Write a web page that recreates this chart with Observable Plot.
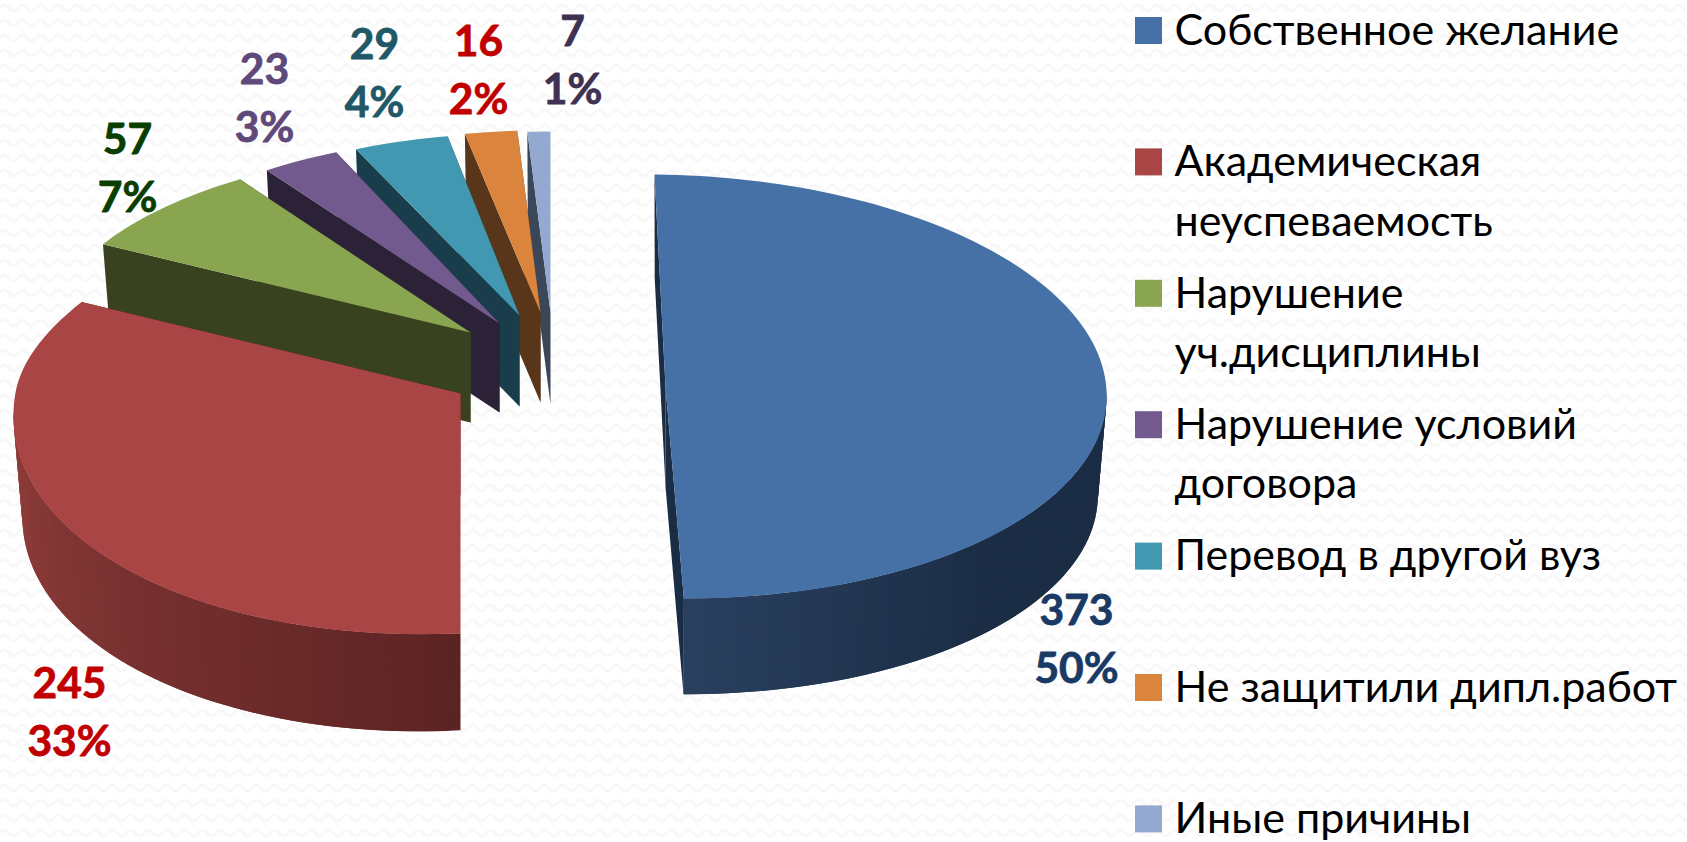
<!DOCTYPE html>
<html>
<head>
<meta charset="utf-8">
<script src="https://cdn.jsdelivr.net/npm/d3@7"></script>
<script src="https://cdn.jsdelivr.net/npm/@observablehq/plot@0.6"></script>
<style>
html,body{margin:0;padding:0;background:#fff;overflow:hidden}
body{background-image:url("data:image/svg+xml,%3Csvg xmlns='http://www.w3.org/2000/svg' width='18' height='15'%3E%3Cpath d='M0 8 Q4.5 2 9 8 T18 8' fill='none' stroke='%23f8f8f8' stroke-width='3'/%3E%3C/svg%3E")}
svg{display:block}
</style>
</head>
<body>
<div id="chart"></div>
<script>
const categories = ["Собственное желание","Академическая неуспеваемость","Нарушение уч.дисциплины","Нарушение условий договора","Перевод в другой вуз","Не защитили дипл.работ","Иные причины"];
const legendLines = [["Собственное желание"],["Академическая","неуспеваемость"],["Нарушение","уч.дисциплины"],["Нарушение условий","договора"],["Перевод в другой вуз"],["Не защитили дипл.работ"],["Иные причины"]];
const counts = [373,245,57,23,29,16,7];
const percents = ["50%","33%","7%","3%","4%","2%","1%"];

// styles
const topColors  = ["#4571a6","#a94544","#8aa54f","#735a8e","#4198b0","#db843d","#94a9d0"];
const wallNear   = ["#2a405f","#5c2323","#39421f","#2c2238","#193d4a","#59351a","#3b4759"];
const wallFar    = ["#1b2d45","#913e3b","#39421f","#2c2238","#193d4a","#59351a","#3b4759"];
const labelColors= ["#1a3a66","#c00000","#0a3d00","#5f497a","#215868","#c00000","#3f3151"];

// 3-D projection of each exploded slice: apex, axes of the projected circle, wall depth, far-side taper
const apexX = [665,460,470,499,519,540,550];
const apexY = [386,393,332,323,315,312,312];
const axisUX = [-11,7.5,21.5,11,4,0,0];
const axisUY = [-212,-240,-185,-188,-182,-182,-181];
const axisVX = [441,447,422,411,396,395,395];
const axisVY = [4,-18,6,2,3,0,0];
const depth  = [100,102,90,89,91,90,92];
const taper  = [0,0.3,0,0,0,0,0];
const floorScale = 0.98;
const paintOrder = [6,5,4,3,2,1,0];

// label layout
const labelX = [1076,69,127,264,374,478,572];
const labelY = [635,708,164,94,69,66,56];
const W = 1687, H = 842;
const legendSwatchX = 1135, legendSwatchSize = 27, legendTextX = 1174;
const legendTop = 30.5, legendStep = 131.4, legendLine = 59.5;
const fontFamily = "Lato, 'Open Sans', sans-serif";

const total = d3.sum(counts);
let acc = 0;
const slices = counts.map((c,i)=>{const a0=acc/total*360; acc+=c; return {i,a0,a1:acc/total*360};});

const rad = d=>d*Math.PI/180;
const offset = (i,a)=>{
  const s=Math.sin(rad(a)), c=Math.cos(rad(a));
  const dx=s*axisVX[i]+c*axisUX[i], dy=s*axisVY[i]+c*axisUY[i];
  const far=Math.min(0,dy)/Math.abs(axisUY[i]);
  return {dx:dx*(1-taper[i]*far*far),dy};
};
const topPt = (i,a)=>{const o=offset(i,a);return {x:apexX[i]+o.dx,y:apexY[i]+o.dy};};
const botPt = (i,a)=>{const o=offset(i,a);return {x:apexX[i]+floorScale*o.dx,y:apexY[i]+depth[i]+floorScale*o.dy};};
const apexTop = i=>({x:apexX[i],y:apexY[i]});
const apexBot = i=>({x:apexX[i],y:apexY[i]+depth[i]});

const shapes = [];
let sid = 0;
const addPoly = (pts,fill)=>{const id=sid++; pts.forEach(p=>shapes.push({id,x:p.x,y:p.y,fill}));};
for (const k of paintOrder) {
  const {i,a0,a1} = slices[k];
  // radial faces
  addPoly([topPt(i,a0),apexTop(i),apexBot(i),botPt(i,a0)],i===1?wallNear[1]:wallFar[i]);
  addPoly([topPt(i,a1),apexTop(i),apexBot(i),botPt(i,a1)],i===0?wallFar[0]:wallNear[i]);
  // rim: each band overlaps the next so no seams show
  const r0=Math.max(a0,90), r1=Math.min(a1,270);
  if (r1>r0) {
    const n=Math.ceil((r1-r0)/1.5), col=d3.interpolateRgb(wallNear[i],wallFar[i]);
    for (const s of d3.range(n)){
      const b0=r0+(r1-r0)*s/n, b1=Math.min(r1,r0+(r1-r0)*(s+2)/n);
      const mid=r0+(r1-r0)*(s+.5)/n;
      const t=i===0?Math.min(1,(180-mid)/45):(mid-r0)/(r1-r0);
      addPoly([topPt(i,b0),topPt(i,b1),botPt(i,b1),botPt(i,b0)],col(Math.max(0,t)));
    }
  }
  // top surface
  const pts=[apexTop(i)];
  const n=Math.ceil((a1-a0)/1.5);
  for(let s=0;s<=n;s++) pts.push(topPt(i,a0+(a1-a0)*s/n));
  addPoly(pts,topColors[i]);
}

const sliceLabels = counts.map((c,i)=>({x:labelX[i],y:labelY[i],text:c+"\n"+percents[i],color:labelColors[i]}));
const legendRows = categories.map((c,i)=>({c,i,y:legendTop+i*legendStep,color:topColors[i]}));
const legendText = legendRows.flatMap(r=>legendLines[r.i].map((t,j)=>({t,y:r.y+j*legendLine})));

const chart = Plot.plot({
  width:W,height:H,margin:0,
  style:{background:"transparent"},
  x:{domain:[0,W],range:[0,W],axis:null},
  y:{domain:[0,H],range:[0,H],axis:null},
  color:{type:"identity"},
  marks:[
    Plot.line(shapes,{x:"x",y:"y",z:"id",fill:"fill",stroke:"none",curve:"linear-closed"}),
    Plot.text(sliceLabels,{x:"x",y:"y",text:"text",fill:"color",stroke:"color",strokeWidth:0.8,fontFamily,fontWeight:"bold",fontSize:42.5,lineHeight:1.37}),
    Plot.rect(legendRows,{x1:legendSwatchX,x2:legendSwatchX+legendSwatchSize,y1:d=>d.y-legendSwatchSize/2,y2:d=>d.y+legendSwatchSize/2,fill:"color"}),
    Plot.text(legendText,{x:legendTextX,y:"y",text:"t",textAnchor:"start",fill:"#000",fontFamily,fontSize:43})
  ]
});
document.getElementById("chart").append(chart);
</script>
</body>
</html>
